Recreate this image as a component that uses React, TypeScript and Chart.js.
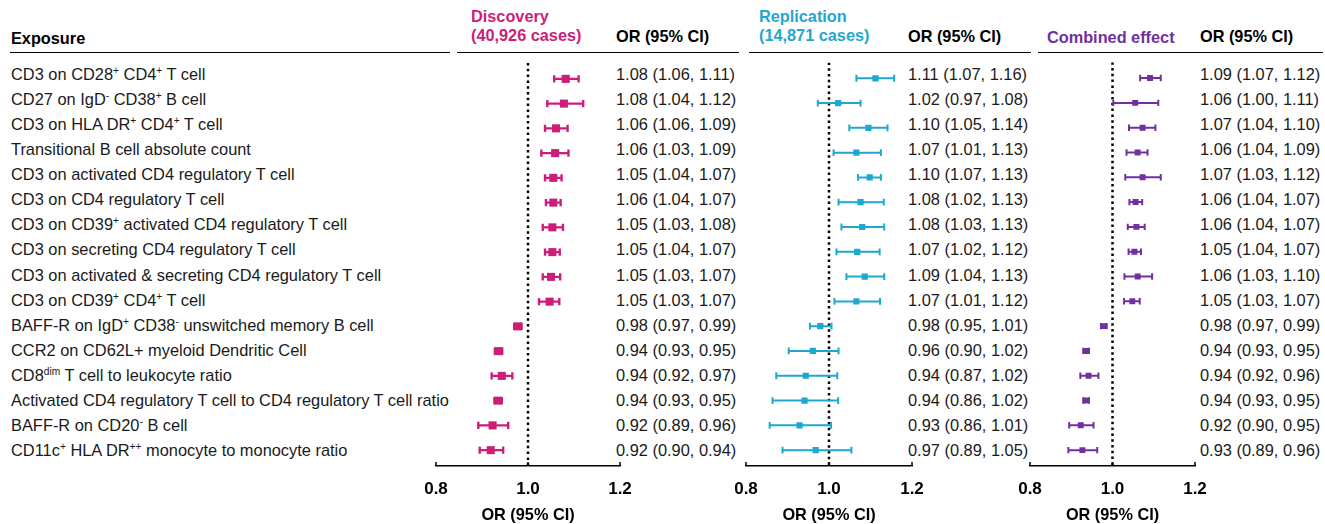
import React, { useEffect, useRef } from 'react';
import { Chart, registerables } from 'chart.js';

Chart.register(...registerables);

// ---------- data ----------
const exposures: string[] = [
  'CD3 on CD28^{+} CD4^{+} T cell',
  'CD27 on IgD^{-} CD38^{+} B cell',
  'CD3 on HLA DR^{+} CD4^{+} T cell',
  'Transitional B cell absolute count',
  'CD3 on activated CD4 regulatory T cell',
  'CD3 on CD4 regulatory T cell',
  'CD3 on CD39^{+} activated CD4 regulatory T cell',
  'CD3 on secreting CD4 regulatory T cell',
  'CD3 on activated & secreting CD4 regulatory T cell',
  'CD3 on CD39^{+} CD4^{+} T cell',
  'BAFF-R on IgD^{+} CD38^{-} unswitched memory B cell',
  'CCR2 on CD62L+ myeloid Dendritic Cell',
  'CD8^{dim} T cell to leukocyte ratio',
  'Activated CD4 regulatory T cell to CD4 regulatory T cell ratio',
  'BAFF-R on CD20^{-} B cell',
  'CD11c^{+} HLA DR^{++} monocyte to monocyte ratio',
];

const discoveryEst = [1.082, 1.078, 1.061, 1.059, 1.055, 1.055, 1.053, 1.053, 1.05, 1.047, 0.978, 0.936, 0.943, 0.935, 0.923, 0.919];
const discoveryLo = [1.057, 1.042, 1.037, 1.029, 1.037, 1.039, 1.032, 1.037, 1.032, 1.024, 0.97, 0.928, 0.921, 0.927, 0.892, 0.895];
const discoveryHi = [1.11, 1.12, 1.086, 1.088, 1.073, 1.071, 1.076, 1.069, 1.07, 1.068, 0.986, 0.944, 0.966, 0.943, 0.957, 0.946];
const discoveryText = [
  '1.08 (1.06, 1.11)', '1.08 (1.04, 1.12)', '1.06 (1.06, 1.09)', '1.06 (1.03, 1.09)',
  '1.05 (1.04, 1.07)', '1.06 (1.04, 1.07)', '1.05 (1.03, 1.08)', '1.05 (1.04, 1.07)',
  '1.05 (1.03, 1.07)', '1.05 (1.03, 1.07)', '0.98 (0.97, 0.99)', '0.94 (0.93, 0.95)',
  '0.94 (0.92, 0.97)', '0.94 (0.93, 0.95)', '0.92 (0.89, 0.96)', '0.92 (0.90, 0.94)',
];

const replicationEst = [1.112, 1.022, 1.095, 1.066, 1.098, 1.076, 1.08, 1.068, 1.086, 1.066, 0.979, 0.961, 0.944, 0.941, 0.929, 0.968];
const replicationLo = [1.066, 0.973, 1.049, 1.011, 1.07, 1.023, 1.03, 1.018, 1.042, 1.013, 0.954, 0.903, 0.873, 0.864, 0.857, 0.888];
const replicationHi = [1.157, 1.076, 1.141, 1.125, 1.125, 1.132, 1.133, 1.122, 1.133, 1.123, 1.006, 1.023, 1.02, 1.022, 1.005, 1.054];
const replicationText = [
  '1.11 (1.07, 1.16)', '1.02 (0.97, 1.08)', '1.10 (1.05, 1.14)', '1.07 (1.01, 1.13)',
  '1.10 (1.07, 1.13)', '1.08 (1.02, 1.13)', '1.08 (1.03, 1.13)', '1.07 (1.02, 1.12)',
  '1.09 (1.04, 1.13)', '1.07 (1.01, 1.12)', '0.98 (0.95, 1.01)', '0.96 (0.90, 1.02)',
  '0.94 (0.87, 1.02)', '0.94 (0.86, 1.02)', '0.93 (0.86, 1.01)', '0.97 (0.89, 1.05)',
];

const combinedEst = [1.091, 1.055, 1.073, 1.061, 1.073, 1.056, 1.058, 1.053, 1.061, 1.048, 0.979, 0.936, 0.942, 0.936, 0.923, 0.927];
const combinedLo = [1.067, 1.002, 1.04, 1.034, 1.031, 1.041, 1.037, 1.039, 1.029, 1.028, 0.972, 0.929, 0.922, 0.929, 0.895, 0.893];
const combinedHi = [1.117, 1.111, 1.104, 1.085, 1.117, 1.072, 1.078, 1.069, 1.096, 1.066, 0.986, 0.943, 0.966, 0.943, 0.954, 0.963];
const combinedText = [
  '1.09 (1.07, 1.12)', '1.06 (1.00, 1.11)', '1.07 (1.04, 1.10)', '1.06 (1.04, 1.09)',
  '1.07 (1.03, 1.12)', '1.06 (1.04, 1.07)', '1.06 (1.04, 1.07)', '1.05 (1.04, 1.07)',
  '1.06 (1.03, 1.10)', '1.05 (1.03, 1.07)', '0.98 (0.97, 0.99)', '0.94 (0.93, 0.95)',
  '0.94 (0.92, 0.96)', '0.94 (0.93, 0.95)', '0.92 (0.90, 0.95)', '0.93 (0.89, 0.96)',
];

const xTicks = [0.8, 1.0, 1.2];
const axisTitle = 'OR (95% CI)';

// ---------- layout ----------
const FONT = "'Liberation Sans', Arial, Helvetica, sans-serif";
const MAGENTA = '#CC1E78';
const CYAN = '#1FA7D0';
const PURPLE = '#7030A0';
const ROW_MIN = 0.36;
const ROW_MAX = 16.64;
const PLOT_TOP = 57;
const AXIS_Y = 466;
const PAGE_H = 524;
const PAD = 30;

const rowY = (i: number) => PLOT_TOP + ((i + 1 - ROW_MIN) / (ROW_MAX - ROW_MIN)) * (AXIS_Y - PLOT_TOP);

function renderLabel(s: string) {
  const parts: React.ReactNode[] = [];
  const re = /\^\{([^}]*)\}/g;
  let last = 0;
  let m: RegExpExecArray | null;
  let k = 0;
  while ((m = re.exec(s)) !== null) {
    if (m.index > last) parts.push(<span key={k++}>{s.slice(last, m.index)}</span>);
    parts.push(
      <sup key={k++} style={{ fontSize: '0.62em', verticalAlign: '0.55em', lineHeight: 0 }}>
        {m[1]}
      </sup>
    );
    last = m.index + m[0].length;
  }
  if (last < s.length) parts.push(<span key={k++}>{s.slice(last)}</span>);
  return parts;
}

type PanelProps = {
  est: number[];
  lo: number[];
  hi: number[];
  color: string;
  left: number;
  right: number;
  markerR: number;
  lineW: number;
  capR: number;
};

function ForestPanel({ est, lo, hi, color, left, right, markerR, lineW, capR }: PanelProps) {
  const ref = useRef<HTMLCanvasElement>(null);
  useEffect(() => {
    if (!ref.current) return;
    const markers = est.map((v, i) => ({ x: v, y: i + 1 }));
    const caps: { x: number; y: number }[] = [];
    const bars: { x: number | null; y: number | null }[] = [];
    est.forEach((_, i) => {
      caps.push({ x: lo[i], y: i + 1 }, { x: hi[i], y: i + 1 });
      bars.push({ x: lo[i], y: i + 1 }, { x: hi[i], y: i + 1 }, { x: null, y: null });
    });
    const axisTicksPlugin = {
      id: 'axisUpTicks',
      afterDraw(chart: any) {
        const sx = chart.scales.x;
        const ctx = chart.ctx;
        const yb = chart.chartArea.bottom;
        ctx.save();
        ctx.strokeStyle = '#000';
        ctx.lineWidth = 1.5;
        xTicks.forEach((v) => {
          const px = sx.getPixelForValue(v);
          ctx.beginPath();
          ctx.moveTo(px, yb);
          ctx.lineTo(px, yb - 4);
          ctx.stroke();
        });
        ctx.restore();
      },
    };
    const chart = new Chart(ref.current, {
      type: 'scatter',
      data: {
        datasets: [
          {
            data: markers,
            pointStyle: 'rect',
            pointRadius: markerR,
            pointHoverRadius: markerR,
            pointBackgroundColor: color,
            pointBorderWidth: 0,
            order: 0,
          } as any,
          {
            data: caps,
            pointStyle: 'line',
            pointRotation: 90,
            pointRadius: capR,
            pointHoverRadius: capR,
            pointBorderColor: color,
            pointBorderWidth: lineW,
            order: 1,
          } as any,
          {
            data: bars,
            showLine: true,
            spanGaps: false,
            pointRadius: 0,
            borderColor: color,
            borderWidth: lineW,
            order: 2,
          } as any,
          {
            data: [
              { x: 1, y: ROW_MIN },
              { x: 1, y: ROW_MAX },
            ],
            showLine: true,
            pointRadius: 0,
            borderColor: '#000',
            borderWidth: 2.5,
            borderDash: [2.5, 3.3],
            order: 3,
          } as any,
        ],
      },
      options: {
        animation: false,
        responsive: true,
        maintainAspectRatio: false,
        events: [],
        layout: { padding: { left: PAD, right: PAD, top: 0, bottom: 0 } },
        plugins: { legend: { display: false }, tooltip: { enabled: false } },
        scales: {
          x: {
            type: 'linear',
            min: 0.8,
            max: 1.2,
            afterFit: (scale: any) => {
              scale.height = PAGE_H - AXIS_Y;
            },
            afterBuildTicks: (scale: any) => {
              scale.ticks = xTicks.map((v) => ({ value: v }));
            },
            grid: { display: false, drawTicks: false },
            border: { display: true, color: '#000', width: 1.5 },
            ticks: {
              padding: 13,
              color: '#000',
              font: { family: FONT, size: 17, weight: 'bold' },
              maxRotation: 0,
              callback: (v: any) => Number(v).toFixed(1),
            },
            title: {
              display: true,
              text: axisTitle,
              color: '#000',
              padding: { top: 0, bottom: 0 },
              font: { family: FONT, size: 16.3, weight: 'bold', lineHeight: 1 },
            },
          },
          y: {
            type: 'linear',
            display: false,
            min: ROW_MIN,
            max: ROW_MAX,
            reverse: true,
          },
        },
      } as any,
      plugins: [axisTicksPlugin],
    });
    return () => chart.destroy();
  }, []);
  return (
    <div
      style={{
        position: 'absolute',
        left: left - PAD,
        top: PLOT_TOP,
        width: right - left + 2 * PAD,
        height: PAGE_H - PLOT_TOP,
      }}
    >
      <canvas ref={ref} />
    </div>
  );
}

const textBase: React.CSSProperties = {
  position: 'absolute',
  fontFamily: FONT,
  fontSize: 16.4,
  lineHeight: '20px',
  whiteSpace: 'nowrap',
  color: '#1a1a1a',
};

const boldBase: React.CSSProperties = {
  ...textBase,
  fontSize: 16.3,
  fontWeight: 'bold',
  color: '#000',
};

function Rule({ x1, x2 }: { x1: number; x2: number }) {
  return (
    <div
      style={{ position: 'absolute', left: x1, top: 51.5, width: x2 - x1, height: 1.5, background: '#000' }}
    />
  );
}

export default function App() {
  return (
    <div
      style={{
        position: 'absolute',
        left: 0,
        top: 0,
        width: 1325,
        height: 524,
        background: '#fff',
        overflow: 'hidden',
      }}
    >
      {/* headers */}
      <div style={{ ...boldBase, left: 11, top: 28 }}>Exposure</div>
      <div style={{ ...boldBase, left: 471, top: 7, color: MAGENTA, lineHeight: '19px' }}>
        Discovery
        <br />
        (40,926 cases)
      </div>
      <div style={{ ...boldBase, left: 616, top: 26 }}>OR (95% CI)</div>
      <div style={{ ...boldBase, left: 759, top: 7, color: CYAN, lineHeight: '19px' }}>
        Replication
        <br />
        (14,871 cases)
      </div>
      <div style={{ ...boldBase, left: 908, top: 26 }}>OR (95% CI)</div>
      <div style={{ ...boldBase, left: 1047, top: 27, color: PURPLE }}>Combined effect</div>
      <div style={{ ...boldBase, left: 1200, top: 26 }}>OR (95% CI)</div>

      <Rule x1={10} x2={450} />
      <Rule x1={457} x2={739} />
      <Rule x1={749} x2={1031} />
      <Rule x1={1038} x2={1323} />

      {exposures.map((s, i) => (
        <div key={'l' + i} style={{ ...textBase, left: 11, top: rowY(i) - 9.5 }}>
          {renderLabel(s)}
        </div>
      ))}
      {discoveryText.map((s, i) => (
        <div key={'d' + i} style={{ ...textBase, left: 616, top: rowY(i) - 9.5 }}>
          {s}
        </div>
      ))}
      {replicationText.map((s, i) => (
        <div key={'r' + i} style={{ ...textBase, left: 908, top: rowY(i) - 9.5 }}>
          {s}
        </div>
      ))}
      {combinedText.map((s, i) => (
        <div key={'c' + i} style={{ ...textBase, left: 1200, top: rowY(i) - 9.5 }}>
          {s}
        </div>
      ))}

      <ForestPanel
        est={discoveryEst}
        lo={discoveryLo}
        hi={discoveryHi}
        color={MAGENTA}
        left={436}
        right={620}
        markerR={5.7}
        lineW={2.4}
        capR={3.6}
      />
      <ForestPanel
        est={replicationEst}
        lo={replicationLo}
        hi={replicationHi}
        color={CYAN}
        left={746}
        right={912}
        markerR={4.4}
        lineW={2}
        capR={3.4}
      />
      <ForestPanel
        est={combinedEst}
        lo={combinedLo}
        hi={combinedHi}
        color={PURPLE}
        left={1030}
        right={1195}
        markerR={4.2}
        lineW={2}
        capR={3.2}
      />
    </div>
  );
}
